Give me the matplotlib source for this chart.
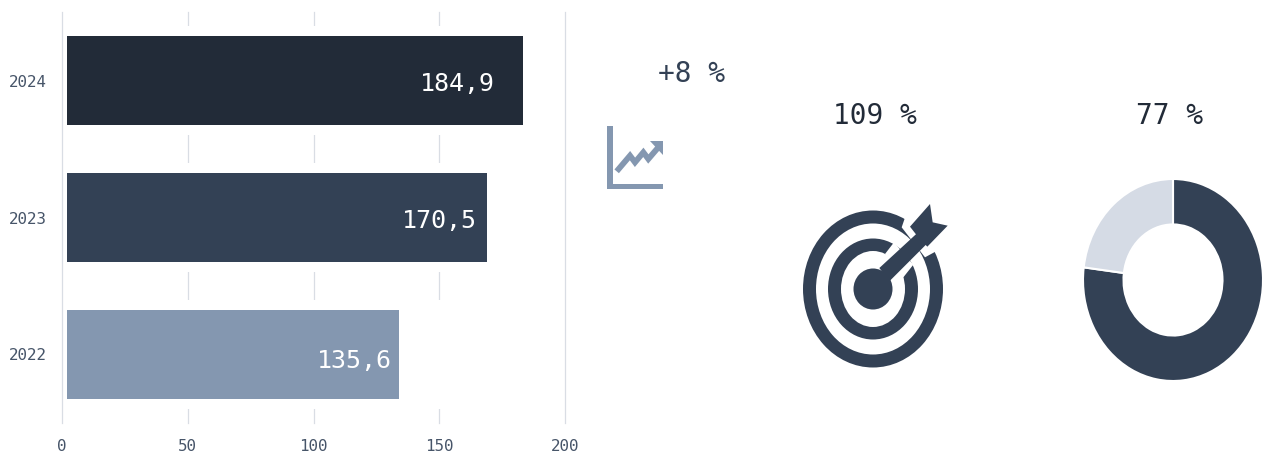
import matplotlib
matplotlib.use('Agg')
import matplotlib.pyplot as plt
from matplotlib.patches import Ellipse, Polygon, Rectangle
from matplotlib.transforms import ScaledTranslation

W, H = 1263, 456

years = ['2022', '2023', '2024']
bar_ends = [134.0, 169.0, 183.3]
bar_labels = ['135,6', '170,5', '184,9']
bar_colors = ['#8497b0', '#334155', '#222b38']
x_ticks = [0, 50, 100, 150, 200]
trend_label = '+8 %'
target_label = '109 %'
donut_label = '77 %'
donut_values = [77, 23]

# Сдвиг подписей столбцов в пикселях
label_dx = [-7, -10, -28]
label_dy = [-5.5, -2.5, -2]

DARK = '#334155'
GRID = '#d9dde4'
TICK = '#475569'

plt.rcParams['font.family'] = ['DejaVu Sans Mono']

fig = plt.figure(figsize=(W / 100, H / 100), dpi=100)


def px_axes(left, top, right, bottom):
    return fig.add_axes([left / W, 1 - bottom / H, (right - left) / W, (bottom - top) / H])


# Столбцы
ax = px_axes(62, 13, 565, 424)
ax.set_xlim(0, 200)
ax.set_ylim(-0.5, 2.5)
ax.set_facecolor('none')
for s in ax.spines.values():
    s.set_visible(False)
ax.set_xticks(x_ticks)
ax.set_yticks(range(len(years)))
ax.set_yticklabels(years)
ax.tick_params(axis='both', length=0, labelsize=11.4, labelcolor=TICK)
ax.tick_params(axis='x', pad=11)
ax.tick_params(axis='y', pad=11)
for lab in ax.get_yticklabels():
    lab.set_transform(lab.get_transform() + ScaledTranslation(0, 1 / 100, fig.dpi_scale_trans))
ax.grid(True, axis='x', color=GRID, linewidth=0.9, zorder=0)
for line in ax.get_xgridlines():
    line.set_clip_on(False)
ax.set_axisbelow(True)
for i, y in enumerate(years):
    ax.axhspan(i - 0.395, i + 0.395, xmin=0.004, xmax=0.996, color='white', linewidth=0, zorder=1)
ax.barh(range(len(years)), [e - 2 for e in bar_ends], left=2, height=0.648, color=bar_colors, zorder=2)
for i, lab in enumerate(bar_labels):
    ax.annotate(lab, (bar_ends[i], i), xytext=(label_dx[i], label_dy[i]), textcoords='offset pixels', ha='right',
                va='center', color='white', fontsize=18, zorder=3)

# Слой для значков и подписей, координаты в пикселях
ov = px_axes(0, 0, W, H)
ov.set_xlim(0, W)
ov.set_ylim(H, 0)
ov.axis('off')
ov.patch.set_alpha(0)

ov.text(691.5, 74.5, trend_label, ha='center', va='center', fontsize=20, color=DARK)
ov.text(875, 116, target_label, ha='center', va='center', fontsize=20, color='#222b38')
ov.text(1170, 116, donut_label, ha='center', va='center', fontsize=20, color='#222b38')


def z1(pts):
    return [(590 + x / 3, 40 + y / 3) for x, y in pts]


def z2(pts):
    return [(790 + x / 3, 195 + y / 3) for x, y in pts]


# Значок графика
ICON = '#8497b0'
ov.add_patch(Rectangle((607, 127), 5.5, 62.5, color=ICON, linewidth=0))
ov.add_patch(Rectangle((607, 184.5), 56, 5.5, color=ICON, linewidth=0))
zx, zy = zip(*z1([(80, 397), (120, 350), (135, 370), (160, 340), (175, 360), (205, 325)]))
ov.plot(zx, zy, color=ICON, linewidth=4.2, solid_joinstyle='miter', solid_capstyle='butt')
ov.add_patch(Polygon(z1([(180, 307), (218, 307), (218, 348)]), color=ICON, linewidth=0))

# Значок мишени
cx, cy = 873, 290
for w, h, c in [(140, 157, DARK), (114, 131, 'white'), (90, 101, DARK), (64, 76, 'white'), (39, 41, DARK)]:
    ov.add_patch(Ellipse((cx, cy), w, h, color=c, linewidth=0))
ov.add_patch(Polygon(z2([(348, 62), (335, 100), (405, 190), (438, 172), (480, 90), (420, 10)]), color='white', linewidth=0))
ov.add_patch(Polygon(z2([(312, 145), (285, 180), (340, 250), (370, 212)]), color='white', linewidth=0))
ov.add_patch(Polygon(z2([(268, 222), (298, 262), (430, 130), (395, 105)]), color=DARK, linewidth=0))
ov.add_patch(Polygon(z2([(360, 98), (420, 30), (428, 85), (473, 95), (412, 158), (385, 130)]), color=DARK, linewidth=0))

# Кольцо
dax = px_axes(1083, 180, 1263, 382)
dax.pie(donut_values, colors=[DARK, '#d5dbe5'], startangle=90, counterclock=False, radius=1,
        wedgeprops=dict(width=0.45, edgecolor='white', linewidth=1.5))
dax.set_aspect('auto')
dax.set_xlim(-1, 1)
dax.set_ylim(-1, 1)

fig.savefig('out.png', dpi=100)
